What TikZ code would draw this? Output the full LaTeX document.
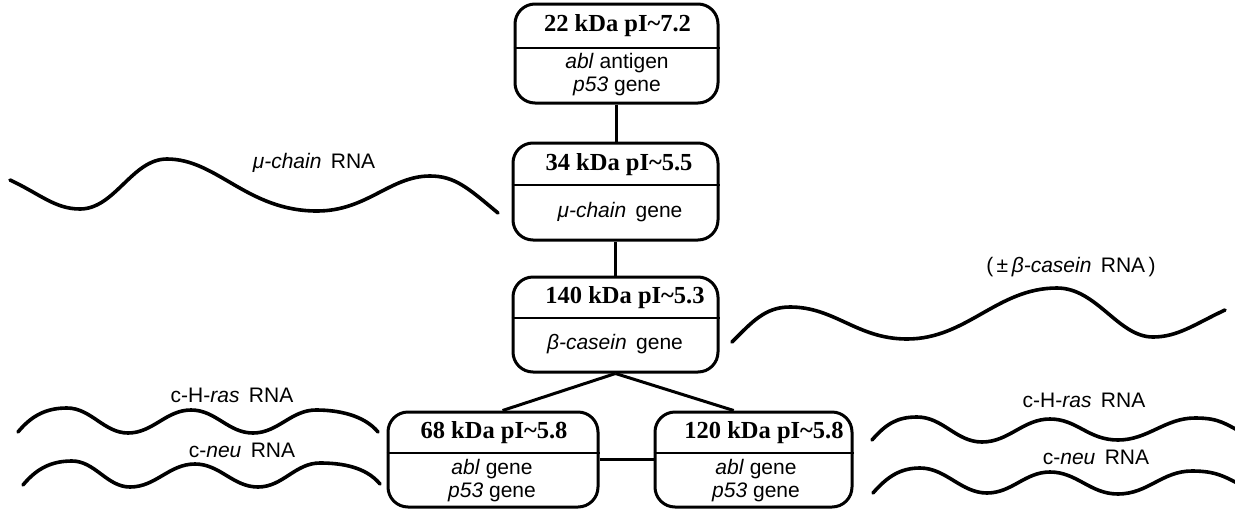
\documentclass[tikz,border=0pt]{standalone}
\usepackage{fontspec}
\setmainfont{Liberation Serif}
\setsansfont{Liberation Sans}
\newcommand\wsp{\hspace{0.45em}}
\begin{document}
\begin{tikzpicture}[x=1pt,y=-1pt,
  pbox/.style={draw, line width=3pt, rounded corners=20pt, inner sep=0pt},
  divline/.style={line width=2pt},
  link/.style={line width=3pt},
  rna/.style={line width=3.6pt, line cap=round},
  hdr/.style={font=\rmfamily\bfseries\fontsize{24.5}{26}\selectfont, inner sep=0pt},
  body/.style={font=\sffamily\fontsize{21}{23}\selectfont, align=center, inner sep=0pt},
  lbl/.style={font=\sffamily\fontsize{21}{23}\selectfont, inner sep=0pt}]
\useasboundingbox (0,0) rectangle (1235,512);

% protein boxes
\node[pbox, minimum width=203pt, minimum height=99pt] (b1) at (616.5,53.5) {};
\node[pbox, minimum width=205pt, minimum height=97pt] (b2) at (615.5,191.5) {};
\node[pbox, minimum width=205pt, minimum height=95pt] (b3) at (615.5,324.5) {};
\node[pbox, minimum width=210pt, minimum height=95pt] (b4) at (493,459.5) {};
\node[pbox, minimum width=197pt, minimum height=95pt] (b5) at (753.5,459.5) {};

% dividers between header and body
\coordinate (d1) at (0,48);
\coordinate (d2) at (0,185);
\coordinate (d3) at (0,318);
\coordinate (d4) at (0,453);
\draw[divline] (b1.west |- d1) -- (b1.east |- d1);
\draw[divline] (b2.west |- d2) -- (b2.east |- d2);
\draw[divline] (b3.west |- d3) -- (b3.east |- d3);
\draw[divline] (b4.west |- d4) -- (b4.east |- d4);
\draw[divline] (b5.west |- d4) -- (b5.east |- d4);

% headers
\node[hdr] (h1) at (617.5,26) {22 kDa pI\textasciitilde7.2};
\node[hdr] (h2) at (619,165) {34 kDa pI\textasciitilde5.5};
\node[hdr] (h3) at (625,298) {140 kDa pI\textasciitilde5.3};
\node[hdr] (h4) at (494,433) {68 kDa pI\textasciitilde5.8};
\node[hdr] (h5) at (764,433) {120 kDa pI\textasciitilde5.8};

% contents
\node[body] (t1) at (617,75) {\textit{abl} antigen\\\textit{p53} gene};
\node[body] (t2) at (620,212) {\textit{μ-chain}\wsp gene};
\node[body] (t3) at (615,344) {\textit{β-casein}\wsp gene};
\node[body] (t4) at (492,481) {\textit{abl} gene\\\textit{p53} gene};
\node[body] (t5) at (756,481) {\textit{abl} gene\\\textit{p53} gene};

% links between boxes
\draw[link] (b1.south) -- (b1.south |- b2.north);
\draw[link] (b2.south) -- (b2.south |- b3.north);
\draw[link] (b3.south) -- (b4.79);
\draw[link] (b3.south) -- (b5.112);
\draw[link] (b4.east) -- (b5.west);

% RNA strands
\draw[rna] (10,180) .. controls +(30,14) and +(-25,0) .. (80,209)
  .. controls +(35,0) and +(-35,0) .. (167,159)
  .. controls +(50,0) and +(-70,0) .. (317,211)
  .. controls +(50,0) and +(-40,0) .. (430,176)
  .. controls +(25,0) and +(-30,-25) .. (498,213);
\draw[rna] (732,342) .. controls +(20,-20) and +(-25,0) .. (790,307)
  .. controls +(45,0) and +(-50,0) .. (907,339)
  .. controls +(60,0) and +(-60,0) .. (1057,288)
  .. controls +(40,0) and +(-35,0) .. (1153,337)
  .. controls +(25,0) and +(-30,14) .. (1225,310);
\draw[rna] (18,432) .. controls +(14,-17) and +(-20,0) .. (67,408)
  .. controls +(24,0) and +(-24,0) .. (128,433)
  .. controls +(25,0) and +(-25,0) .. (191,410)
  .. controls +(25,0) and +(-25,0) .. (253,433)
  .. controls +(25,0) and +(-25,0) .. (316,410)
  .. controls +(22,0) and +(-14,-17) .. (378,432);
\draw[rna] (23,485) .. controls +(14,-17) and +(-20,0) .. (72,461)
  .. controls +(23,0) and +(-23,0) .. (130,487)
  .. controls +(26,0) and +(-26,0) .. (195,464)
  .. controls +(25,0) and +(-25,0) .. (258,487)
  .. controls +(25,0) and +(-25,0) .. (320,463)
  .. controls +(22,0) and +(-14,-17) .. (380,484);
\draw[rna] (872,440) .. controls +(14,-16) and +(-20,0) .. (917,417)
  .. controls +(26,0) and +(-26,0) .. (982,442)
  .. controls +(27,0) and +(-27,0) .. (1050,419)
  .. controls +(27,0) and +(-30,0) .. (1118,440)
  .. controls +(30,0) and +(-30,0) .. (1195,418)
  .. controls +(25,0) and +(-20,-10) .. (1245,434);
\draw[rna] (873,493) .. controls +(14,-16) and +(-20,0) .. (920,468)
  .. controls +(26,0) and +(-26,0) .. (987,493)
  .. controls +(25,0) and +(-25,0) .. (1050,472)
  .. controls +(27,0) and +(-28,0) .. (1118,494)
  .. controls +(30,0) and +(-30,0) .. (1192,471)
  .. controls +(25,0) and +(-20,-10) .. (1245,487);

% strand labels
\node[lbl] (rmu) at (314,163) {\textit{μ-chain}\wsp RNA};
\node[lbl] (rbeta) at (1071,267) {(\,±\,\textit{β-casein}\wsp RNA\,)};
\node[lbl] (rras1) at (232,395) {c-H-\textit{ras}\wsp RNA};
\node[lbl] (rneu1) at (242,450) {c-\textit{neu}\wsp RNA};
\node[lbl] (rras2) at (1084,400) {c-H-\textit{ras}\wsp RNA};
\node[lbl] (rneu2) at (1096,457) {c-\textit{neu}\wsp RNA};
\end{tikzpicture}
\end{document}
